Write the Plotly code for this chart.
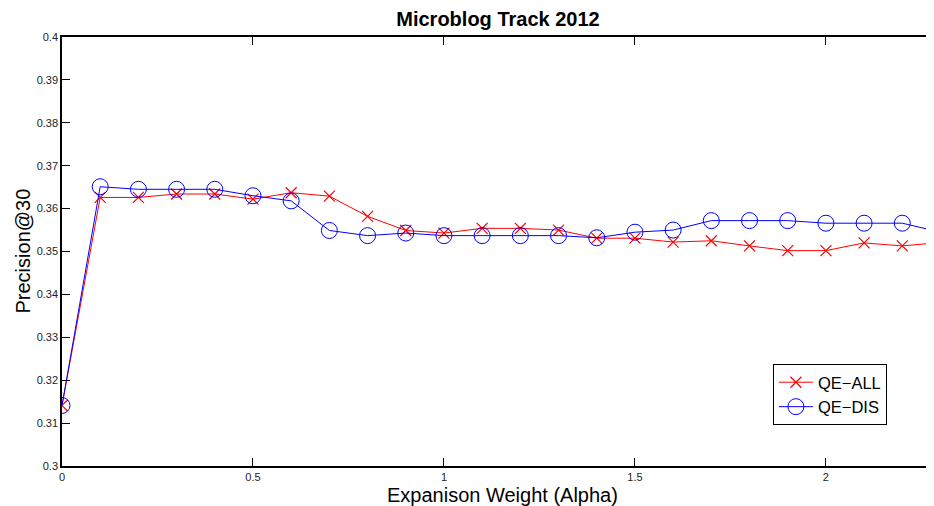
import plotly.graph_objects as go

alpha = [0, 0.1, 0.2, 0.3, 0.4, 0.5, 0.6, 0.7, 0.8, 0.9, 1.0, 1.1, 1.2, 1.3, 1.4, 1.5,
         1.6, 1.7, 1.8, 1.9, 2.0, 2.1, 2.2, 2.3]
qe_all = [0.3141, 0.3626, 0.3626, 0.3634, 0.3634, 0.3622, 0.3637, 0.3629, 0.3582, 0.3549,
          0.3543, 0.3554, 0.3554, 0.3550, 0.3531, 0.3531, 0.3522, 0.3525, 0.3513, 0.3502,
          0.3502, 0.3520, 0.3513, 0.3521]
qe_dis = [0.3141, 0.3651, 0.3645, 0.3645, 0.3645, 0.3630, 0.3618, 0.3549, 0.3537, 0.3543,
          0.3537, 0.3537, 0.3537, 0.3537, 0.3532, 0.3545, 0.3550, 0.3572, 0.3572, 0.3572,
          0.3566, 0.3566, 0.3566, 0.3545]

x_ticks = [0, 0.5, 1, 1.5, 2]
x_ticktext = ["0", "0.5", "1", "1.5", "2"]
y_ticks = [0.30, 0.31, 0.32, 0.33, 0.34, 0.35, 0.36, 0.37, 0.38, 0.39, 0.40]
y_ticktext = ["0.3", "0.31", "0.32", "0.33", "0.34", "0.35", "0.36", "0.37", "0.38", "0.39", "0.4"]

FONT = "Liberation Sans, Arial, Helvetica, sans-serif"

W, H = 926, 498  # page body has an 8px margin; this keeps the figure inside the 934x506 window

fig = go.Figure()
fig.add_trace(go.Scatter(
    x=alpha, y=qe_all, name="QE\u2212ALL", mode="lines+markers",
    line=dict(color="#ff0000", width=1),
    marker=dict(symbol="x-thin", size=11, color="#ff0000",
                line=dict(color="#ff0000", width=1.2)),
))
fig.add_trace(go.Scatter(
    x=alpha, y=qe_dis, name="QE\u2212DIS", mode="lines+markers",
    line=dict(color="#0000ff", width=1),
    marker=dict(symbol="circle-open", size=16, color="#0000ff",
                line=dict(color="#0000ff", width=1)),
))

fig.update_layout(
    width=W, height=H,
    margin=dict(l=54, r=0, t=29, b=40),
    paper_bgcolor="white", plot_bgcolor="white",
    font=dict(family=FONT, color="black"),
    title=dict(text="<b>Microblog Track 2012</b>", x=(54 + 926) / 2 / W, xanchor="center",
               y=1 - 11 / H, yanchor="middle", font=dict(size=20, family=FONT, color="black")),
    showlegend=True,
    legend=dict(x=0.946, xanchor="right", y=0.2378, yanchor="top",
                bordercolor="black", borderwidth=1, bgcolor="white",
                font=dict(size=16.5, family=FONT, color="black"),
                itemwidth=34, tracegroupgap=0),
    annotations=[
        dict(text="Expanison Weight (Alpha)", xref="paper", yref="paper", x=0.505, y=0,
             xanchor="center", yanchor="middle", yshift=-29, showarrow=False,
             font=dict(size=20, family=FONT, color="black")),
        dict(text="Precision@30", xref="paper", yref="paper", x=0, y=0.5,
             xanchor="center", yanchor="middle", xshift=-40, textangle=-90, showarrow=False,
             font=dict(size=20, family=FONT, color="black")),
    ],
)
fig.update_xaxes(
    range=[0, 2.283], showgrid=False, zeroline=False, automargin=False,
    showline=True, linecolor="black", linewidth=1.5, mirror="ticks",
    ticks="inside", ticklen=8, tickcolor="black", tickwidth=1,
    tickvals=x_ticks, ticktext=x_ticktext, tickfont=dict(size=11, family=FONT, color="#222"),
)
fig.update_yaxes(
    range=[0.3, 0.4], showgrid=False, zeroline=False, automargin=False,
    showline=True, linecolor="black", linewidth=1.5, mirror=False,
    ticks="inside", ticklen=8, tickcolor="black", tickwidth=1,
    tickvals=y_ticks, ticktext=y_ticktext, tickfont=dict(size=11, family=FONT, color="#222"),
)

fig.write_html("out.html")
